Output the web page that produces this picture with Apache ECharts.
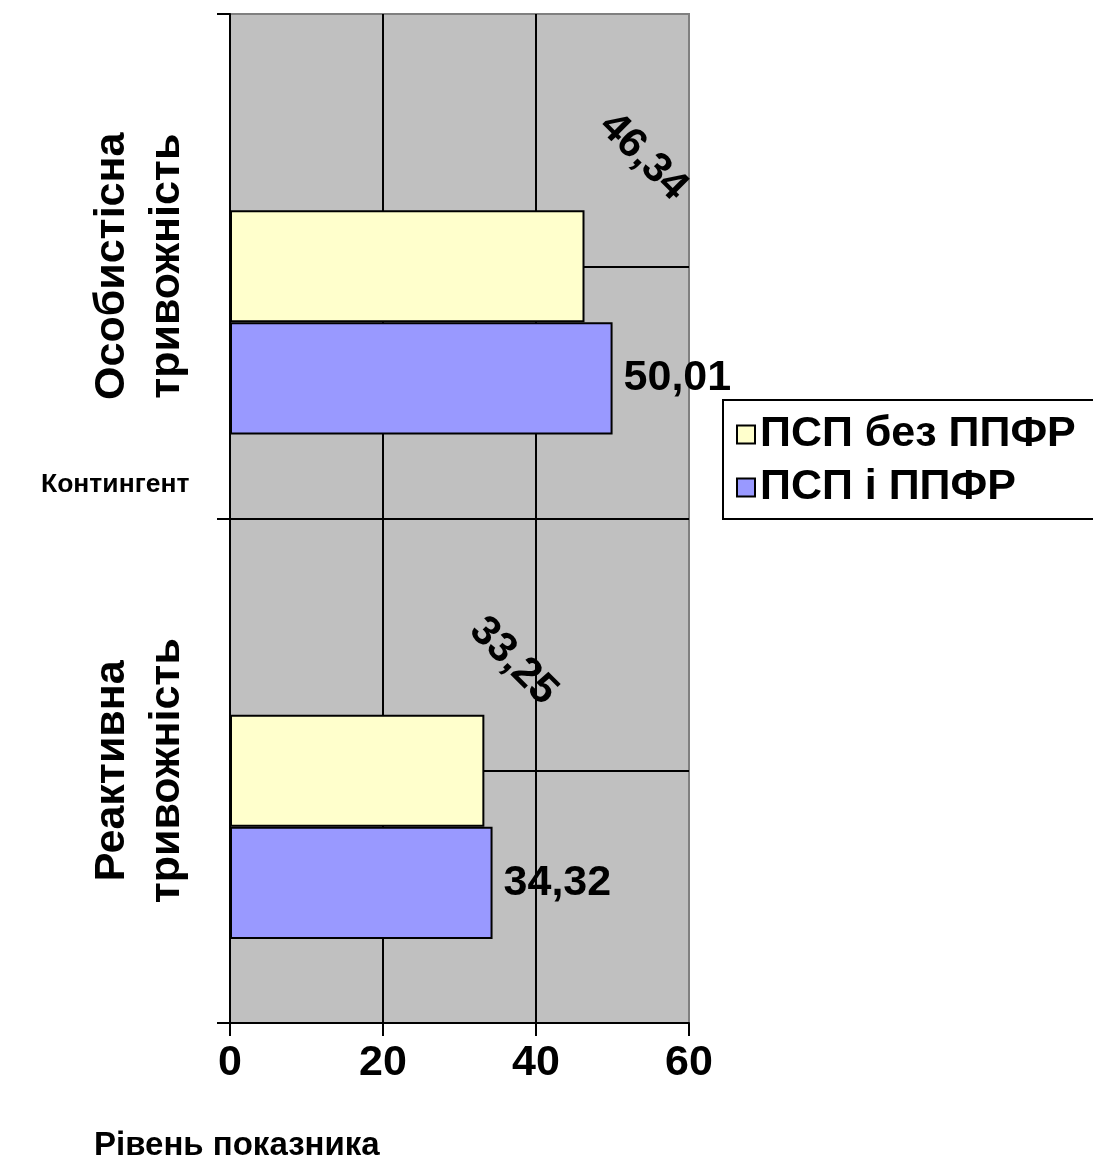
<!DOCTYPE html>
<html>
<head>
<meta charset="utf-8">
<script src="https://cdn.jsdelivr.net/npm/echarts@6/dist/echarts.min.js"></script>
<style>
  html, body { margin: 0; padding: 0; background: #ffffff; }
  #chart { width: 1093px; height: 1171px; }
</style>
</head>
<body>
<div id="chart"></div>
<script>
// Categories, bottom to top along the category axis
const categories = ['Реактивна\nтривожність', 'Особистісна\nтривожність'];
const seriesNames = ['ПСП без ППФР', 'ПСП і ППФР'];
const valuesWithout = [33.25, 46.34];   // ПСП без ППФР
const valuesWith = [34.32, 50.01];      // ПСП і ППФР
const xTicks = [0, 20, 40, 60];

const FONT = "'Liberation Sans', Arial, sans-serif";

// rotated value labels sit above the yellow bars
const rotatedOffsets = [[-57, -98], [-36, -119]];

const chart = echarts.init(document.getElementById('chart'), null, { renderer: 'canvas' });

const labelFmt = p => (p.value == null ? '' : p.value.toFixed(2).replace('.', ','));

chart.setOption({
  animation: false,
  backgroundColor: '#ffffff',
  title: [
    { text: 'Контингент', left: 36, top: 466,
      textStyle: { fontFamily: FONT, fontWeight: 'bold', fontSize: 26.5, color: '#000' } },
    { text: 'Рівень показника', left: 89, top: 1124,
      textStyle: { fontFamily: FONT, fontWeight: 'bold', fontSize: 33, color: '#000' } }
  ],
  legend: {
    orient: 'vertical',
    left: 723, top: 400,
    data: seriesNames,
    icon: 'rect',
    itemWidth: 18, itemHeight: 18,
    itemGap: 10,
    padding: [13, 60, 10, 13],
    borderColor: '#000', borderWidth: 2,
    textStyle: { fontFamily: FONT, fontWeight: 'bold', fontSize: 43, color: '#000' }
  },
  grid: {
    left: 230, right: 404, top: 14, bottom: 148,
    show: true, backgroundColor: '#c0c0c0', borderColor: '#808080', borderWidth: 2
  },
  xAxis: {
    type: 'value', min: xTicks[0], max: xTicks[xTicks.length - 1], interval: 20,
    axisLine: { show: true, lineStyle: { color: '#000', width: 2 } },
    axisTick: { show: true, length: 13, lineStyle: { color: '#000', width: 2 } },
    axisLabel: { margin: 19, fontFamily: FONT, fontWeight: 'bold', fontSize: 43, color: '#000' },
    splitLine: { show: true, showMinLine: false, showMaxLine: false, lineStyle: { color: '#000', width: 2 } }
  },
  yAxis: [
    {
      type: 'category', data: categories,
      axisLine: { show: true, lineStyle: { color: '#000', width: 2 } },
      axisTick: { show: true, length: 13, lineStyle: { color: '#000', width: 2 } },
      axisLabel: { rotate: 90, margin: 35, lineHeight: 55, fontFamily: FONT, fontWeight: 'bold', fontSize: 43, color: '#000' },
      splitLine: { show: false }
    },
    {
      // quarter lines across the plot: category centres and the boundary between them
      type: 'value', min: 0, max: 4, interval: 1, position: 'left',
      axisLine: { show: false }, axisTick: { show: false }, axisLabel: { show: false },
      splitLine: { show: true, showMinLine: false, showMaxLine: false, lineStyle: { color: '#000', width: 2 } }
    }
  ],
  series: [
    {
      name: 'empty', type: 'bar', yAxisIndex: 0,
      data: categories.map(() => null),
      barGap: '0%', barCategoryGap: '33.3%'
    },
    {
      name: seriesNames[0], type: 'bar', yAxisIndex: 0,
      barGap: '0%', barCategoryGap: '33.3%',
      itemStyle: { color: '#ffffcc', borderColor: '#000', borderWidth: 2 },
      data: valuesWithout.map((v, i) => ({
        value: v,
        label: {
          show: true, position: 'right', distance: 0, rotate: -45,
          align: 'center', verticalAlign: 'middle',
          offset: rotatedOffsets[i],
          formatter: labelFmt,
          fontFamily: FONT, fontWeight: 'bold', fontSize: 42, color: '#000'
        }
      }))
    },
    {
      name: seriesNames[1], type: 'bar', yAxisIndex: 0,
      barGap: '0%', barCategoryGap: '33.3%',
      itemStyle: { color: '#9999ff', borderColor: '#000', borderWidth: 2 },
      label: {
        show: true, position: 'right', distance: 11,
        formatter: labelFmt,
        fontFamily: FONT, fontWeight: 'bold', fontSize: 43, color: '#000'
      },
      data: valuesWith
    }
  ]
});
</script>
</body>
</html>
